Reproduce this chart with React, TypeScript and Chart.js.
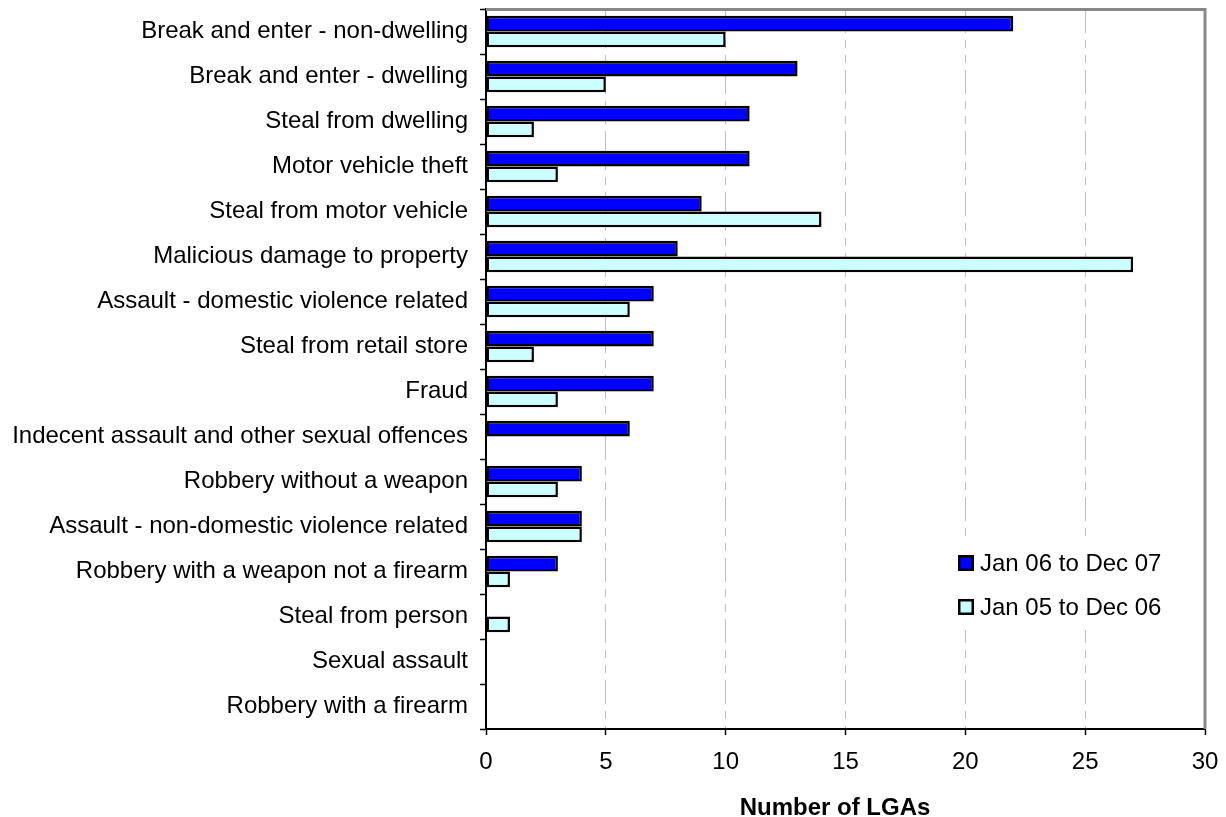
import { useEffect, useRef } from "react";
import { Chart, registerables } from "chart.js";

Chart.register(...registerables);

const categories = [
  "Break and enter - non-dwelling",
  "Break and enter - dwelling",
  "Steal from dwelling",
  "Motor vehicle theft",
  "Steal from motor vehicle",
  "Malicious damage to property",
  "Assault - domestic violence related",
  "Steal from retail store",
  "Fraud",
  "Indecent assault and other sexual offences",
  "Robbery without a weapon",
  "Assault - non-domestic violence related",
  "Robbery with a weapon not a firearm",
  "Steal from person",
  "Sexual assault",
  "Robbery with a firearm",
];

const seriesLabels = ["Jan 06 to Dec 07", "Jan 05 to Dec 06"];
const recentValues = [22, 13, 11, 11, 9, 8, 7, 7, 7, 6, 4, 4, 3, 0, 0, 0];
const previousValues = [10, 5, 2, 3, 14, 27, 6, 2, 3, 0, 3, 4, 1, 1, 0, 0];

const xMin = 0;
const xMax = 30;
const xStep = 5;
const axisTitle = "Number of LGAs";

const FONT = '"Liberation Sans", Arial, Helvetica, sans-serif';

const framePlugin = {
  id: "frame",
  afterDraw(chart: any) {
    const { ctx, chartArea } = chart;
    ctx.save();
    ctx.strokeStyle = "#888888";
    ctx.lineWidth = 3;
    ctx.beginPath();
    ctx.moveTo(chartArea.left, chartArea.top + 0.5);
    ctx.lineTo(chartArea.right, chartArea.top + 0.5);
    ctx.lineTo(chartArea.right, chartArea.bottom);
    ctx.stroke();
    // axis title
    ctx.fillStyle = "#000000";
    ctx.font = `bold 24px ${FONT}`;
    ctx.textAlign = "center";
    ctx.textBaseline = "alphabetic";
    ctx.fillText(axisTitle, (chartArea.left + chartArea.right) / 2 - 10.5, 815);
    ctx.restore();
  },
};

const legendPlugin = {
  id: "insideLegend",
  afterDatasetsDraw(chart: any) {
    const { ctx } = chart;
    ctx.save();
    ctx.fillStyle = "#ffffff";
    ctx.fillRect(948, 538, 236, 92);
    chart.data.datasets.forEach((ds: any, i: number) => {
      const cy = 563 + i * 44;
      ctx.fillStyle = ds.backgroundColor;
      ctx.fillRect(958, cy - 8, 16, 16);
      ctx.strokeStyle = "#000000";
      ctx.lineWidth = 2.5;
      ctx.strokeRect(959.25, cy - 6.75, 13.5, 13.5);
      ctx.fillStyle = "#000000";
      ctx.font = `24px ${FONT}`;
      ctx.textBaseline = "middle";
      ctx.textAlign = "left";
      ctx.fillText(ds.label, 980, cy + 1);
    });
    ctx.restore();
  },
};

export default function App() {
  const canvasRef = useRef<HTMLCanvasElement | null>(null);

  useEffect(() => {
    if (!canvasRef.current) return;
    Chart.defaults.font.family = FONT;
    Chart.defaults.color = "#000000";
    const chart = new Chart(canvasRef.current, {
      type: "bar",
      data: {
        labels: categories,
        datasets: [
          {
            label: seriesLabels[0],
            data: recentValues,
            backgroundColor: "#0000ff",
            borderColor: "#000000",
            borderWidth: 2.5,
            borderSkipped: false,
            categoryPercentage: 0.7,
            barPercentage: 1.0,
          },
          {
            label: seriesLabels[1],
            data: previousValues,
            backgroundColor: "#ccffff",
            borderColor: "#000000",
            borderWidth: 2.5,
            borderSkipped: false,
            categoryPercentage: 0.7,
            barPercentage: 1.0,
          },
        ],
      },
      options: {
        indexAxis: "y",
        animation: false,
        responsive: false,
        maintainAspectRatio: false,
        layout: { padding: { top: 9, right: 21, bottom: 0, left: 0 } },
        plugins: {
          legend: { display: false },
          tooltip: { enabled: false },
        },
        scales: {
          x: {
            min: xMin,
            max: xMax,
            ticks: {
              stepSize: xStep,
              font: { size: 24 },
              color: "#000000",
              padding: 13,
              maxRotation: 0,
            },
            grid: {
              color: (c: any) =>
                c.tick && (c.tick.value === xMin || c.tick.value === xMax)
                  ? "rgba(0,0,0,0)"
                  : "#c0c0c0",
              lineWidth: 1,
              tickColor: "#000000",
              tickLength: 6,
              tickWidth: 1.5,
            },
            border: { color: "#000000", width: 2, dash: [24, 7, 8, 7, 8, 7] },
            title: { display: false, text: axisTitle },
            afterFit: (scale: any) => {
              scale.height = 88;
              scale.paddingLeft = 0;
              scale.paddingRight = 0;
            },
          },
          y: {
            ticks: {
              font: { size: 24 },
              color: "#000000",
              padding: 12,
              autoSkip: false,
            },
            grid: {
              drawOnChartArea: false,
              drawTicks: true,
              tickLength: 6,
              color: "#000000",
              tickColor: "#000000",
              tickWidth: 1.5,
            },
            border: { color: "#000000", width: 2 },
            afterFit: (scale: any) => {
              scale.width = 486;
              scale.paddingTop = 0;
              scale.paddingBottom = 0;
            },
          },
        },
      },
      plugins: [framePlugin, legendPlugin],
    });
    return () => chart.destroy();
  }, []);

  return (
    <div style={{ position: "fixed", left: 0, top: 0, width: 1226, height: 817, background: "#ffffff" }}>
      <canvas ref={canvasRef} width={1226} height={817} style={{ width: 1226, height: 817 }} />
    </div>
  );
}
